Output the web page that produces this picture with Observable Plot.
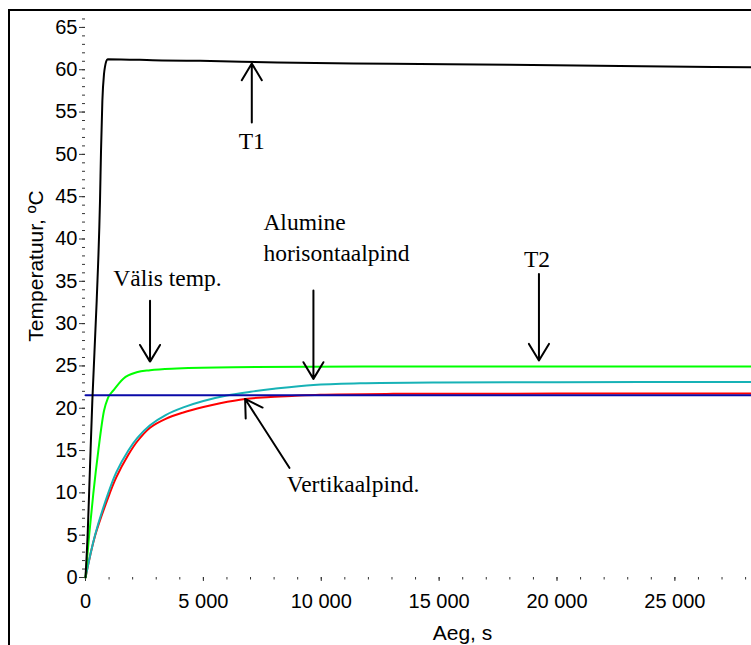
<!DOCTYPE html>
<html><head><meta charset="utf-8">
<script src="https://cdn.jsdelivr.net/npm/d3@7"></script>
<script src="https://cdn.jsdelivr.net/npm/@observablehq/plot@0.6"></script>
<style>
html,body{margin:0;padding:0;background:#fff;}
#wrap{position:relative;width:751px;height:645px;overflow:hidden;}
#frame{position:absolute;left:8px;top:8.5px;width:800px;height:700px;border-left:2px solid #000;border-top:2px solid #000;pointer-events:none;}
</style></head><body><div id="wrap"><div id="frame"></div></div>
<script>
// ---- data (time in s, temperature in °C) ----
const t1Time = [0, 93, 190, 290, 475, 615, 658, 715, 785, 830, 880, 940, 3250, 4860, 8130, 13000, 18000, 23600, 28250];
const t1Temp = [0, 5.2, 13, 20.9, 32.7, 44.5, 50.4, 56.3, 59.5, 60.4, 61.0, 61.25, 61.1, 61.05, 60.85, 60.7, 60.6, 60.4, 60.3];

const valisTime = [0, 60, 162, 331, 544, 785, 950, 1180, 1605, 2170, 2740, 3870, 6270, 12000, 28250];
const valisTemp = [0, 2, 5.2, 9.9, 15, 19.7, 21.2, 22.1, 23.5, 24.25, 24.5, 24.7, 24.85, 24.92, 24.92];

const horisTime = [0, 403, 968, 1300, 1817, 2200, 2737, 3400, 4150, 5000, 5990, 7000, 8000, 9670, 11650, 15040, 20000, 28250];
const horisTemp = [0, 5, 10, 12.4, 15, 16.5, 18, 19.2, 20.1, 20.85, 21.5, 21.95, 22.3, 22.76, 22.95, 23.05, 23.08, 23.1];

const vertTime = [0, 403, 968, 1300, 1817, 2200, 2737, 3400, 4150, 5000, 5710, 6770, 7700, 8750, 9950, 13050, 20000, 28250];
const vertTemp = [0, 4.9, 9.5, 11.8, 14.5, 16.1, 17.7, 18.75, 19.5, 20.15, 20.6, 21.1, 21.3, 21.45, 21.6, 21.7, 21.73, 21.75];

const t2Time = [0, 28250];
const t2Temp = [21.55, 21.55];

const yMajorTicks = d3.range(0, 70, 5);
const yMinorTicks = d3.range(0, 68, 1);
const xMajorTicks = d3.range(0, 30000, 5000);
const xMinorTicks = d3.range(0, 29000, 1000);

const xLabel = "Aeg, s";
const yLabel = "Temperatuur, ºC";

// annotations (data coordinates)
const centerLabels = ["T1", "T2"];
const centerLabelTime = [7054, 19149];
const centerLabelTemp = [50.67, 36.73];

const leftLabels = ["Välis temp.", "Alumine", "horisontaalpind", "Vertikaalpind."];
const leftLabelTime = [1180, 7546, 7546, 8539];
const leftLabelTemp = [34.49, 41.07, 37.36, 10.16];

const arrowFromTime = [7054, 2737, 9668, 19234, 8649];
const arrowFromTemp = [53.77, 32.71, 33.9, 35.87, 12.96];
const arrowToTime = [7054, 2737, 9668, 19234, 6770];
const arrowToTemp = [60.74, 25.51, 23.47, 25.63, 21.1];

// ---- build tables ----
const zip = (ts, vs) => ts.map((t, i) => ({t, v: vs[i]}));
const series = [
  {data: zip(vertTime, vertTemp), color: "#ff0000", curve: "catmull-rom"},
  {data: zip(horisTime, horisTemp), color: "#17b2b6", curve: "catmull-rom"},
  {data: zip(valisTime, valisTemp), color: "#00ff00", curve: "monotone-x"},
  {data: zip(t2Time, t2Temp), color: "#0a0aa8", curve: "linear"},
  {data: zip(t1Time, t1Temp), color: "#000000", curve: "monotone-x"}
];
const centerRows = centerLabels.map((s, i) => ({s, t: centerLabelTime[i], v: centerLabelTemp[i]}));
const leftRows = leftLabels.map((s, i) => ({s, t: leftLabelTime[i], v: leftLabelTemp[i]}));
const arrows = arrowFromTime.map((t, i) => ({x1: t, y1: arrowFromTemp[i], x2: arrowToTime[i], y2: arrowToTemp[i]}));

const fmtX = d => d3.format(",")(d).replace(/,/g, " ");
const serif = "'Liberation Serif', 'Times New Roman', serif";

const chart = Plot.plot({
  width: 751,
  height: 645,
  marginLeft: 85,
  marginRight: 0,
  marginTop: 10,
  marginBottom: 68,
  style: {fontFamily: "'Liberation Sans', Arial, sans-serif", fontSize: "20px", background: "transparent", color: "#000"},
  x: {domain: [0, 28250]},
  y: {domain: [0, 67]},
  marks: [
    Plot.axisY(yMinorTicks, {tickSize: 3, fill: "none", label: null, stroke: "#333"}),
    Plot.axisY(yMajorTicks, {tickSize: 6, tickPadding: 2, label: null, stroke: "#333", fill: "#000", line: true, fontSize: 20}),
    Plot.axisX(xMinorTicks, {tickSize: 2.5, fill: "none", label: null, stroke: "#333"}),
    Plot.axisX(xMajorTicks, {tickSize: 4, tickPadding: 12, label: null, stroke: "#333", fill: "#000", line: true, tickFormat: fmtX, fontSize: 20}),
    ...series.map(s => Plot.line(s.data, {x: "t", y: "v", stroke: s.color, strokeWidth: 2, curve: s.curve})),
    Plot.arrow(arrows, {x1: "x1", y1: "y1", x2: "x2", y2: "y2", stroke: "#000", strokeWidth: 2, headLength: 14.6, headAngle: 62}),
    Plot.text(centerRows, {x: "t", y: "v", text: "s", textAnchor: "middle", lineAnchor: "bottom", fontFamily: serif, fontSize: 23.5, fill: "#000"}),
    Plot.text(leftRows, {x: "t", y: "v", text: "s", textAnchor: "start", lineAnchor: "bottom", fontFamily: serif, fontSize: 23.5, fill: "#000"}),
    Plot.text([xLabel], {text: d => d, frameAnchor: "bottom", dx: 44, dy: 62, lineAnchor: "bottom", textAnchor: "middle", fontSize: 21, fill: "#000"}),
    Plot.text([yLabel], {text: d => d, frameAnchor: "left", dx: -43, dy: -28, rotate: -90, lineAnchor: "bottom", textAnchor: "middle", fontSize: 21, fill: "#000"})
  ]
});
document.getElementById("wrap").prepend(chart);
</script>
</body></html>
